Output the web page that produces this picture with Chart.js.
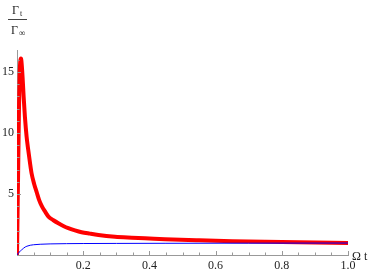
<!DOCTYPE html>
<html>
<head>
<meta charset="utf-8">
<script src="https://cdn.jsdelivr.net/npm/chart.js@4"></script>
<style>
  html, body { margin: 0; padding: 0; background: #fff; }
  #wrap { width: 381px; height: 274px; }
</style>
</head>
<body>
<div id="wrap"><canvas id="grafico" width="381" height="274"></canvas></div>
<script>
// red curve (thick): Omega t vs Gamma_t / Gamma_inf
const tempoVermelho = [0, 0.002, 0.004, 0.006, 0.008, 0.010, 0.012, 0.014, 0.017, 0.020, 0.024, 0.029, 0.034, 0.039, 0.044, 0.052, 0.060, 0.067, 0.075, 0.085, 0.095, 0.110, 0.125, 0.140, 0.155, 0.175, 0.195, 0.220, 0.246, 0.296, 0.347, 0.400, 0.447, 0.550, 0.650, 0.750, 0.850, 1.000];
const valoresVermelho = [0, 4, 8, 12, 14.8, 15.9, 16.1, 15.7, 14.5, 13.0, 11.3, 9.7, 8.6, 7.6, 6.7, 5.8, 5.1, 4.5, 4.0, 3.55, 3.15, 2.85, 2.6, 2.38, 2.2, 2.02, 1.87, 1.75, 1.64, 1.5, 1.42, 1.35, 1.29, 1.2, 1.13, 1.08, 1.04, 0.99];

// blue curve (thin)
const tempoAzul = [0, 0.003, 0.006, 0.010, 0.014, 0.020, 0.025, 0.030, 0.040, 0.050, 0.070, 0.100, 0.150, 0.200, 0.300, 0.450, 0.700, 1.000];
const valoresAzul = [0, 0.12, 0.22, 0.32, 0.42, 0.56, 0.66, 0.72, 0.8, 0.84, 0.88, 0.91, 0.93, 0.94, 0.95, 0.96, 0.97, 0.98];

const ticksX = [0.2, 0.4, 0.6, 0.8, 1.0];
const ticksY = [5, 10, 15];

const fonte = "'Liberation Serif', 'Times New Roman', serif";
const corEixo = "#999999";

const pontosVermelho = tempoVermelho.map((t, i) => ({ x: t, y: valoresVermelho[i] }));
const pontosAzul = tempoAzul.map((t, i) => ({ x: t, y: valoresAzul[i] }));

// Mathematica-like tick marks pointing into the plot, plus axis labels
const marcas = {
  id: "marcas",
  afterDraw(chart) {
    const ctx = chart.ctx;
    const sx = chart.scales.x;
    const sy = chart.scales.y;
    const area = chart.chartArea;
    ctx.save();
    ctx.strokeStyle = corEixo;
    ctx.lineWidth = 1;
    for (let i = 1; i <= 20; i++) {
      const v = i * 0.05;
      const px = Math.round(sx.getPixelForValue(v)) + 0.5;
      const len = i % 4 === 0 ? 4 : 2.5;
      ctx.beginPath();
      ctx.moveTo(px, area.bottom);
      ctx.lineTo(px, area.bottom - len);
      ctx.stroke();
    }
    for (let v = 1; v <= 16; v++) {
      const py = Math.round(sy.getPixelForValue(v)) + 0.5;
      const len = v % 5 === 0 ? 4 : 2.5;
      ctx.beginPath();
      ctx.moveTo(area.left, py);
      ctx.lineTo(area.left + len, py);
      ctx.stroke();
    }
    ctx.fillStyle = "#222";
    ctx.font = "12px " + fonte;
    ctx.textBaseline = "alphabetic";
    ctx.textAlign = "left";
    ctx.fillText("Ω t", 352, 260);
    // fraction Gamma_t / Gamma_inf
    ctx.fillText("Γ", 12, 14);
    ctx.font = "8px " + fonte;
    ctx.fillText("t", 20, 16);
    ctx.font = "12px " + fonte;
    ctx.fillText("Γ", 11, 34);
    ctx.font = "9px " + fonte;
    ctx.fillText("∞", 19, 36);
    ctx.strokeStyle = "#444";
    ctx.beginPath();
    ctx.moveTo(8, 19.5);
    ctx.lineTo(27, 19.5);
    ctx.stroke();
    ctx.restore();
  }
};

const ctx = document.getElementById("grafico");
window.meuGrafico = new Chart(ctx, {
  type: "line",
  data: {
    datasets: [
      {
        label: "azul",
        data: pontosAzul,
        borderColor: "#0000ff",
        borderWidth: 1,
        pointRadius: 0,
        cubicInterpolationMode: "monotone",
        order: 0,
      },
      {
        label: "vermelho",
        data: pontosVermelho,
        borderColor: "#ff0000",
        borderWidth: 4,
        pointRadius: 0,
        cubicInterpolationMode: "monotone",
        order: 1,
      },
    ],
  },
  options: {
    responsive: false,
    animation: false,
    layout: { padding: { top: 50, right: 33, left: 0, bottom: 0 } },
    plugins: { legend: { display: false }, tooltip: { enabled: false } },
    scales: {
      x: {
        type: "linear",
        min: 0,
        max: 1,
        afterFit(scale) { scale.height = 19; },
        afterBuildTicks(scale) { scale.ticks = ticksX.map((v) => ({ value: v })); },
        grid: { display: false, drawTicks: false },
        border: { display: true, color: corEixo },
        ticks: {
          padding: 4,
          color: "#222",
          font: { family: fonte, size: 12 },
          maxRotation: 0,
          autoSkip: false,
          callback: (v) => Number(v).toFixed(1),
        },
      },
      y: {
        type: "linear",
        min: 0,
        max: 16.8,
        afterFit(scale) { scale.width = 17; },
        afterBuildTicks(scale) { scale.ticks = ticksY.map((v) => ({ value: v })); },
        grid: { display: false, drawTicks: false },
        border: { display: true, color: corEixo },
        ticks: {
          padding: 3,
          color: "#222",
          font: { family: fonte, size: 12 },
          autoSkip: false,
        },
      },
    },
  },
  plugins: [marcas],
});
</script>
</body>
</html>
